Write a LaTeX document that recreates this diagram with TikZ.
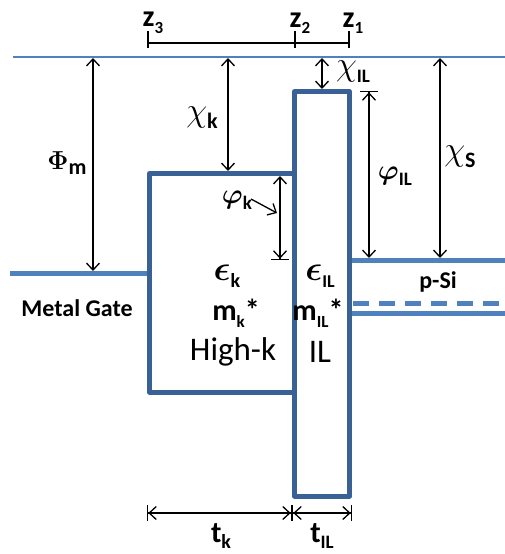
\RequirePackage{fix-cm}
\documentclass[tikz,border=0pt]{standalone}
\usepackage{fontspec}
\usepackage{bm}
\setmainfont{Carlito}
\usetikzlibrary{arrows.meta}

\definecolor{bandblue}{RGB}{58,97,150}
\definecolor{levelblue}{RGB}{79,129,189}

% lowered bold index of a label
\newcommand{\idx}[2][16]{\raisebox{-0.45ex}{\fontsize{#1}{#1}\selectfont\bfseries #2}}

\begin{document}
\begin{tikzpicture}[
    x = 1pt, y = -1pt,
    >={Straight Barb[length=7pt, width=13pt]},
    band/.style  = {draw = bandblue, line width = 5pt, line join = round},
    level/.style = {draw = levelblue, line width = 5pt},
    vac/.style   = {draw = levelblue, line width = 2.5pt},
    dim/.style   = {line width = 1.3pt, <->},
    bardim/.style = {line width = 1.3pt,
        arrows = {Bar[width=16pt]Straight Barb[length=7pt, width=13pt]-Straight Barb[length=7pt, width=13pt]Bar[width=16pt]}},
    greek/.style = {font = \fontsize{28}{28}\selectfont, inner sep = 0pt},
    chi/.style   = {font = \fontsize{34}{34}\selectfont, inner sep = 0pt},
    eps/.style   = {font = \fontsize{35}{35}\selectfont, inner sep = 0pt},
    tag/.style   = {font = \fontsize{24}{26}\selectfont\bfseries, inner sep = 0pt},
    big/.style   = {font = \fontsize{30}{30}\selectfont\bfseries, inner sep = 0pt},
    layer/.style = {font = \fontsize{33}{34}\selectfont, inner sep = 0pt}
]
\useasboundingbox (0,0) rectangle (505,554);

% --- Energy levels ---
\draw[vac]   (13,57) -- (505,57);
\draw[level] (10,273) -- (149.5,273);
\draw[level] (349.5,260) -- (505,260);
\draw[level, dash pattern = on 16pt off 10pt] (353,303) -- (505,303);
\draw[level] (349.5,313) -- (505,313);

% --- Oxide barriers ---
\draw[band] (294.5,392) -- (149.5,392) -- (149.5,173.5) -- (294.5,173.5);
\draw[band] (294.5,91.5) rectangle (349.5,496);

% --- Position axis ---
\draw[line width = 1.3pt] (148,43) -- (349,43);
\foreach \x in {148,295,349}
    \draw[line width = 1.3pt] (\x,31) -- (\x,48);

\node[big] (z3) at (153,23) {z\idx[17]{3}};
\node[big] (z2) at (300,23) {z\idx[17]{2}};
\node[big] (z1) at (353,23) {z\idx[17]{1}};

% --- Energy differences ---
\draw[dim] (93,58)  -- (93,271);
\draw[dim] (228,58) -- (228,171);
\draw[dim] (322,58) -- (322,89);
\draw[dim] (440,58) -- (440,258);
\draw[line width = 1.3pt,
    arrows = {Bar[width=18pt]Straight Barb[length=7pt, width=13pt]-Straight Barb[length=7pt, width=13pt]}]
    (369,91) -- (369,258);
\draw[line width = 1.3pt,
    arrows = {Straight Barb[length=7pt, width=13pt]-Straight Barb[length=7pt, width=13pt]Bar[width=18pt]}]
    (280,176) -- (280,260);
\draw[line width = 1.3pt, ->] (251,199) -- (277,213);

\node[greek] (phim)  at (67,163)  {\fontsize{26}{26}\selectfont$\bm{\Phi}$\idx[22]{m}};
\node[chi]   (chik)  at (202,118) {$\chi$\idx[22]{k}};
\node[chi]   (chiil) at (353,72)  {$\chi$\idx[19]{IL}};
\node[greek] (phiil) at (395,176) {$\bm{\varphi}$\idx[19]{IL}};
\node[chi]   (chis)  at (460,157) {$\chi$\idx[22]{S}};
\node[greek] (phik)  at (237,200) {$\bm{\varphi}$\idx[19]{k}};

% --- Layer parameters ---
\node[eps]   (epsk)  at (227,276) {$\bm{\epsilon}$\idx[20]{k}};
\node[eps]   (epsil) at (320,276) {$\bm{\epsilon}$\idx[18]{IL}};
\node[big]   (mk)    at (236,313) {m\idx[17]{k}*};
\node[big]   (mil)   at (318,313) {m\idx[17]{IL}*};
\node[layer] (highk) at (233,352) {High-k};
\node[layer] (il)    at (320,352) {IL};
\node[tag]   (metal) at (77,308)  {Metal Gate};
\node[tag]   (psi)   at (438,282) {p-Si};

% --- Thicknesses ---
\draw[bardim] (147,513) -- (292,513);
\draw[bardim] (292,513) -- (352,513);
\node[big] (tk)  at (221,536) {t\idx[20]{k}};
\node[big] (til) at (322,536) {t\idx[19]{IL}};

\end{tikzpicture}
\end{document}
